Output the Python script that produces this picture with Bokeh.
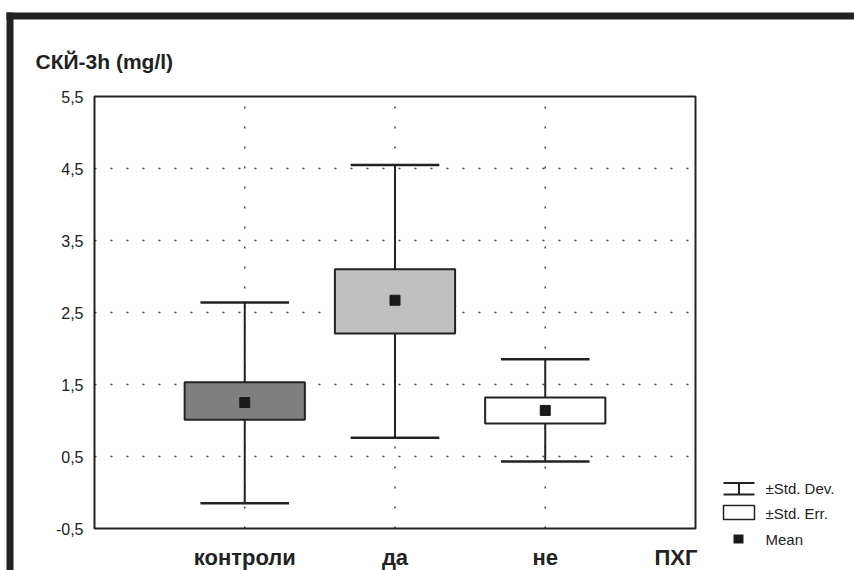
from bokeh.plotting import figure
from bokeh.models import Range1d, FixedTicker, Label, BoxAnnotation, LinearAxis
from bokeh.embed import file_html
from bokeh.resources import INLINE

# ---- data ----
categories = ["контроли", "да", "не", "ПХГ"]
means = [1.25, 2.67, 1.14]
se_low = [1.01, 2.21, 0.96]
se_high = [1.53, 3.10, 1.32]
sd_low = [-0.15, 0.76, 0.43]
sd_high = [2.64, 4.55, 1.85]
box_colors = ["#7f7f7f", "#c0c0c0", "#ffffff"]
y_ticks = [-0.5, 0.5, 1.5, 2.5, 3.5, 4.5, 5.5]
y_tick_labels = ["-0,5", "0,5", "1,5", "2,5", "3,5", "4,5", "5,5"]
title_text = "СКЙ-3h (mg/l)"
legend_labels = ["±Std. Dev.", "±Std. Err.", "Mean"]

xs = [i + 1 for i in range(len(means))]
INK = "#222222"
FONT = "Liberation Sans"

# ---- layout: canvas 854x570, plot box at px 94..695 (x), 96..528 (y) ----
W, H = 854, 570
BOX_L, BOX_R, BOX_T, BOX_B = 94, 695, 96, 528
x_lo, x_hi = 0, len(categories)
y_lo, y_hi = y_ticks[0], y_ticks[-1]
ppx = (BOX_R - BOX_L) / (x_hi - x_lo)
ppy = (BOX_B - BOX_T) / (y_hi - y_lo)
x_range = Range1d(x_lo - BOX_L / ppx, x_hi + (W - BOX_R) / ppx)
y_range = Range1d(y_lo - (H - BOX_B) / ppy, y_hi + BOX_T / ppy)

p = figure(width=W, height=H, output_backend="svg", toolbar_location=None,
           x_range=x_range, y_range=y_range, x_axis_type=None, y_axis_type=None,
           min_border=0, background_fill_color="white", border_fill_color="white")
p.outline_line_color = None

# axes fixed at the plot box edges
yax = LinearAxis(fixed_location=x_lo, ticker=FixedTicker(ticks=y_ticks),
                 major_label_overrides={t: l for t, l in zip(y_ticks, y_tick_labels)})
x_label_pos = [1, 2, 3, 3.87]
xax = LinearAxis(fixed_location=y_lo, ticker=FixedTicker(ticks=x_label_pos),
                 major_label_overrides={t: c for t, c in zip(x_label_pos, categories)})
for ax in (yax, xax):
    ax.axis_line_color = None
    ax.major_tick_line_color = None
    ax.minor_tick_line_color = None
    ax.major_label_text_font = FONT
    ax.major_label_text_color = INK
yax.major_label_text_font_size = "16px"
yax.major_label_standoff = 5
xax.major_label_text_font_size = "22px"
xax.major_label_text_font_style = "bold"
xax.major_label_standoff = 10
p.add_layout(yax, "left")
p.add_layout(xax, "below")

# dotted grid
gy = y_ticks[1:-1]
p.segment(x0=[x_lo] * len(gy), y0=gy, x1=[x_hi] * len(gy), y1=gy,
          line_color="#444444", line_width=1.5, line_dash="2 14")
p.segment(x0=xs, y0=[y_lo] * len(xs), x1=xs, y1=[y_hi] * len(xs),
          line_color="#444444", line_width=1.5, line_dash="2 18")

# plot box
p.quad(left=[x_lo], right=[x_hi], bottom=[y_lo], top=[y_hi], fill_color=None,
       line_color=INK, line_width=2)

# whiskers (std dev)
p.segment(x0=xs, y0=sd_low, x1=xs, y1=sd_high, line_color=INK, line_width=2)
cap = 0.295
p.segment(x0=[x - cap for x in xs], y0=sd_high, x1=[x + cap for x in xs], y1=sd_high,
          line_color=INK, line_width=2.5)
p.segment(x0=[x - cap for x in xs], y0=sd_low, x1=[x + cap for x in xs], y1=sd_low,
          line_color=INK, line_width=2.5)
# boxes (std err)
p.vbar(x=xs, width=0.8, bottom=se_low, top=se_high, fill_color=box_colors,
       line_color=INK, line_width=2)
# means
p.scatter(x=xs, y=means, marker="square", size=10, fill_color="#1a1a1a", line_color="#1a1a1a")

# title
p.add_layout(Label(x=x_lo, y=y_hi, x_offset=-59, y_offset=35, text=title_text,
                   text_font=FONT, text_font_style="bold", text_font_size="21px",
                   text_color=INK, text_baseline="middle", text_align="left"))

# legend (manual)
leg_off = [40, 15, -11]
for lab, off in zip(legend_labels, leg_off):
    p.add_layout(Label(x=x_hi, y=y_lo, x_offset=70, y_offset=off, text=lab,
                       text_font=FONT, text_font_size="15px", text_color=INK,
                       text_baseline="middle", text_align="left"))

def cbox(l, r, t, b, fill, line=None, lw=0):
    return BoxAnnotation(left=l, right=r, top=t, bottom=b,
                         left_units="canvas", right_units="canvas",
                         top_units="canvas", bottom_units="canvas",
                         fill_color=fill, fill_alpha=1.0,
                         line_color=line if line else fill, line_width=lw,
                         line_alpha=1.0 if line else 0.0, level="overlay")

# legend symbols (canvas px)
p.add_layout(cbox(723, 754, 481.5, 483.5, INK))
p.add_layout(cbox(737.5, 739.5, 482, 494, INK))
p.add_layout(cbox(723, 754, 493, 495, INK))
p.add_layout(cbox(723, 754, 505, 519, "white", INK, 1.5))
p.add_layout(cbox(733, 743, 534, 543, "#1a1a1a"))

# black window border
p.add_layout(cbox(6, W, 12, 19, INK))
p.add_layout(cbox(6, 13, 12, H, INK))

open("out.html", "w").write(file_html(p, INLINE))
